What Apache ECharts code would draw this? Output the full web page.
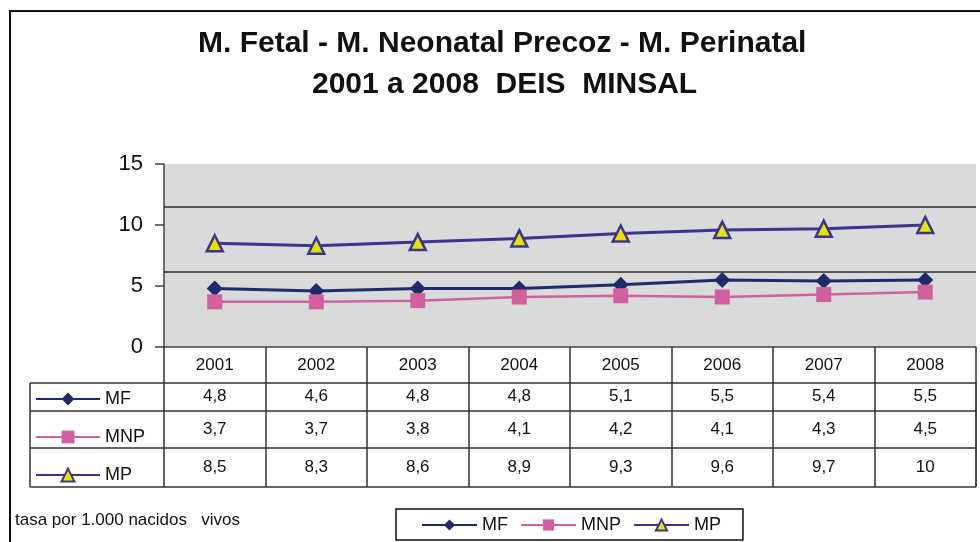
<!DOCTYPE html>
<html lang="es">
  <head>
    <meta charset="UTF-8" />
    <title>M. Fetal - M. Neonatal Precoz - M. Perinatal</title>
    <style>
      * {
        margin: 0;
        padding: 0;
      }
      body {
        background: #fff;
      }
    </style>
  </head>
  <body>
    <div id="main" style="width: 980px; height: 542px;"></div>
    <script src="https://cdn.jsdelivr.net/npm/echarts@6/dist/echarts.min.js"></script>
    <script>
      // datos (tasa por 1.000 nacidos vivos)
      let years = ["2001", "2002", "2003", "2004", "2005", "2006", "2007", "2008"];
      let mf = [4.8, 4.6, 4.8, 4.8, 5.1, 5.5, 5.4, 5.5];
      let mnp = [3.7, 3.7, 3.8, 4.1, 4.2, 4.1, 4.3, 4.5];
      let mp = [8.5, 8.3, 8.6, 8.9, 9.3, 9.6, 9.7, 10];
      let seriesNames = ["MF", "MNP", "MP"];
      let bandLines = [6.2, 11.5];

      const FONT = "Liberation Sans, Arial, sans-serif";
      const LINE = "#333";

      // 4.8 -> "4,8"
      function fmt(v) {
        return String(v).replace(".", ",");
      }

      // fila de la tabla de datos como eje extra
      function tableAxis(values, offset, tickLen, margin) {
        return {
          type: "category",
          data: years,
          position: "bottom",
          offset: offset,
          axisLine: { show: true, lineStyle: { color: LINE, width: 1.5 } },
          axisTick: { show: true, length: tickLen, interval: 0, lineStyle: { color: LINE, width: 1.5 } },
          axisLabel: {
            interval: 0,
            margin: margin,
            fontSize: 17,
            color: "#111",
            fontFamily: FONT,
            formatter: function (v, i) {
              return fmt(values[i]);
            },
          },
          splitLine: { show: false },
        };
      }

      let titleStyle = {
        fontSize: 30,
        fontWeight: "bold",
        color: "#111",
        fontFamily: FONT,
      };

      function draw() {
        let myEcharts = echarts.init(document.getElementById("main"));
        let option = {
          animation: false,
          backgroundColor: "#fff",
          title: [
            {
              text: "M. Fetal - M. Neonatal Precoz - M. Perinatal",
              left: 198,
              top: 29,
              padding: 0,
              textStyle: titleStyle,
            },
            {
              text: "2001 a 2008  DEIS  MINSAL",
              left: 312,
              top: 70,
              padding: 0,
              textStyle: titleStyle,
            },
          ],
          grid: {
            left: 164,
            right: 4,
            top: 164,
            bottom: 195,
            show: true,
            backgroundColor: "#D9DADA",
            borderWidth: 0,
          },
          legend: [
            {
              data: seriesNames,
              left: 396,
              top: 509,
              padding: [7, 22, 6, 25],
              itemWidth: 55,
              itemHeight: 14,
              itemGap: 12,
              borderColor: "#111",
              borderWidth: 1.5,
              textStyle: { fontSize: 18, color: "#111", fontFamily: FONT },
            },
            {
              data: seriesNames,
              orient: "vertical",
              left: 35,
              top: 390,
              padding: 0,
              itemWidth: 64,
              itemHeight: 16,
              itemGap: 20,
              textStyle: { fontSize: 18, color: "#111", fontFamily: FONT },
            },
          ],
          xAxis: [
            {
              type: "category",
              data: years,
              axisLine: { show: true, lineStyle: { color: "#444", width: 1.5 } },
              axisTick: { show: true, length: 36, interval: 0, lineStyle: { color: LINE, width: 1.5 } },
              axisLabel: { interval: 0, margin: 10, fontSize: 17, color: "#111", fontFamily: FONT },
              splitLine: { show: false },
            },
            tableAxis(mf, 36, 28, 5),
            tableAxis(mnp, 64, 37, 10),
            tableAxis(mp, 101, 39, 11),
          ],
          yAxis: {
            type: "value",
            min: 0,
            max: 15,
            interval: 5,
            axisLine: { show: true, lineStyle: { color: "#444", width: 1.5 } },
            axisTick: { show: true, length: 9, lineStyle: { color: "#444", width: 1.5 } },
            axisLabel: { margin: 21, fontSize: 22, color: "#111", fontFamily: FONT },
            splitLine: { show: false },
          },
          series: [
            {
              name: "MF",
              type: "line",
              data: mf,
              symbol: "diamond",
              symbolSize: 16,
              itemStyle: { color: "#1F2A6B" },
              lineStyle: { color: "#1F2A6B", width: 3 },
            },
            {
              name: "MNP",
              type: "line",
              data: mnp,
              symbol: "rect",
              symbolSize: 15,
              itemStyle: { color: "#D2609F" },
              lineStyle: { color: "#D2609F", width: 2.5 },
              markLine: {
                silent: true,
                symbol: ["none", "none"],
                label: { show: false },
                lineStyle: { color: "#2a2a2a", type: "solid", width: 1.5 },
                data: bandLines.map(function (v) {
                  return { yAxis: v };
                }),
              },
            },
            {
              name: "MP",
              type: "line",
              data: mp,
              symbol: "triangle",
              symbolSize: 16,
              itemStyle: { color: "#E8E200", borderColor: "#3D3490", borderWidth: 2.5 },
              lineStyle: { color: "#3D3490", width: 3 },
            },
          ],
          graphic: [
            // marco exterior
            {
              type: "polyline",
              shape: { points: [[10, 542], [10, 11], [980, 11]] },
              style: { stroke: "#111", lineWidth: 2, fill: null },
            },
            // celdas de la columna de leyenda
            { type: "line", shape: { x1: 30, y1: 383, x2: 164, y2: 383 }, style: { stroke: LINE, lineWidth: 1.5 } },
            { type: "line", shape: { x1: 30, y1: 411, x2: 164, y2: 411 }, style: { stroke: LINE, lineWidth: 1.5 } },
            { type: "line", shape: { x1: 30, y1: 448, x2: 164, y2: 448 }, style: { stroke: LINE, lineWidth: 1.5 } },
            { type: "line", shape: { x1: 30, y1: 487, x2: 976, y2: 487 }, style: { stroke: LINE, lineWidth: 1.5 } },
            { type: "line", shape: { x1: 30, y1: 383, x2: 30, y2: 487 }, style: { stroke: LINE, lineWidth: 1.5 } },
            { type: "line", shape: { x1: 976, y1: 383, x2: 976, y2: 487 }, style: { stroke: LINE, lineWidth: 1 } },
            // nota
            {
              type: "text",
              left: 15,
              top: 512,
              style: {
                text: "tasa por 1.000 nacidos   vivos",
                fontSize: 17,
                fill: "#111",
                fontFamily: FONT,
              },
            },
          ],
        };
        myEcharts.setOption(option);
      }
      draw();
    </script>
  </body>
</html>
